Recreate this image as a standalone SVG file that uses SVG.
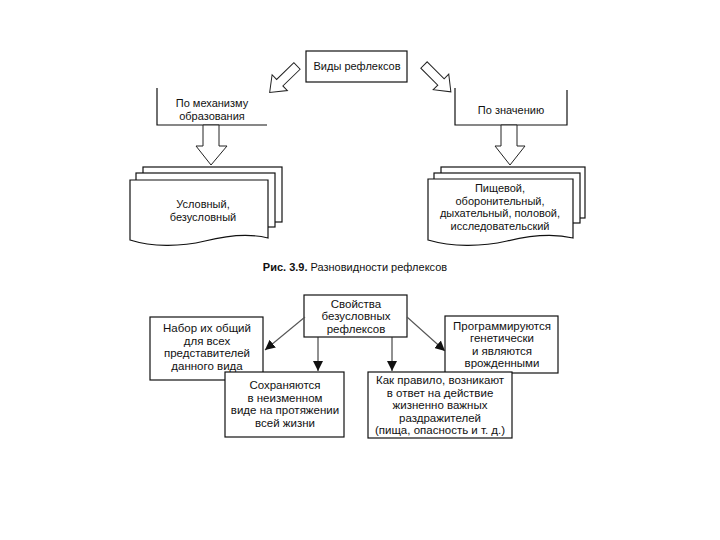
<svg xmlns="http://www.w3.org/2000/svg" width="720" height="540" viewBox="0 0 720 540">
<defs>
<style>
.t{font-family:"Liberation Sans",Arial,sans-serif;font-size:11px;fill:#111;text-anchor:middle}
.b{font-family:"Liberation Sans",Arial,sans-serif;font-size:11.5px;fill:#111;text-anchor:middle}
.box{fill:#fff;stroke:#111;stroke-width:1.2}
.ln{fill:none;stroke:#111;stroke-width:1.2}
.ha{fill:#fff;stroke:#222;stroke-width:1}
.con{fill:none;stroke:#222;stroke-width:1}
.dg{fill:none;stroke:#555;stroke-width:1.1}
</style>
<marker id="ah" viewBox="0 0 10 10" refX="10" refY="5" markerWidth="10" markerHeight="10" markerUnits="userSpaceOnUse" orient="auto">
<path d="M0,0 L10,5 L0,10 Z" fill="#111"/>
</marker>
<polygon id="hollow" points="0,-4.5 24,-4.5 24,-11 38,0 24,11 24,4.5 0,4.5"/>
</defs>
<rect width="720" height="540" fill="#fff"/>

<g id="vidy">
<rect class="box" x="306" y="51" width="101" height="31"/>
<text class="t" x="357" y="70">Виды рефлексов</text>
</g>

<g id="po-mehanizmu">
<path class="ln" d="M157,88 V125 H267"/>
<text class="t" x="212" y="107">По механизму</text>
<text class="t" x="212" y="119.5">образования</text>
</g>

<g id="po-znacheniyu">
<path class="ln" d="M455,88 V125 H567 V90"/>
<text class="t" x="511" y="114">По значению</text>
</g>

<g id="doc-left">
<rect class="box" x="143" y="167" width="139" height="55"/>
<rect class="box" x="136" y="173" width="139" height="54"/>
<path class="box" d="M130,180 H268 V238 C248,233 225,236 205,241 C180,247 152,247 130,240 Z"/>
<text class="t" x="203" y="208">Условный,</text>
<text class="t" x="203" y="220.5">безусловный</text>
</g>

<g id="doc-right">
<rect class="box" x="441" y="167" width="144" height="51"/>
<rect class="box" x="434" y="173" width="146" height="50"/>
<path class="box" d="M428,179 H573 V238 C552,233 528,236 507,241 C481,247 452,247 428,240 Z"/>
<text class="t" x="500" y="192">Пищевой,</text>
<text class="t" x="500" y="204.5">оборонительный,</text>
<text class="t" x="500" y="217">дыхательный, половой,</text>
<text class="t" x="500" y="229.5">исследовательский</text>
</g>

<text x="355" y="271" style="font-family:'Liberation Sans',Arial,sans-serif;font-size:11px;fill:#111;text-anchor:middle"><tspan font-weight="bold">Рис. 3.9.</tspan> Разновидности рефлексов</text>

<g id="svoistva">
<rect class="box" x="304" y="295" width="103" height="42"/>
<text class="b" x="356" y="307.5">Свойства</text>
<text class="b" x="356" y="320">безусловных</text>
<text class="b" x="356" y="332.5">рефлексов</text>
</g>

<g id="nabor">
<rect class="box" x="150" y="317" width="113" height="63"/>
<text class="b" x="207" y="332">Набор их общий</text>
<text class="b" x="207" y="344.5">для всех</text>
<text class="b" x="207" y="357">представителей</text>
<text class="b" x="207" y="369.5">данного вида</text>
</g>

<g id="programmiruyutsya">
<rect class="box" x="445" y="316" width="113" height="57"/>
<text class="b" x="502" y="329.5">Программируются</text>
<text class="b" x="502" y="342">генетически</text>
<text class="b" x="502" y="354.5">и являются</text>
<text class="b" x="502" y="367">врожденными</text>
</g>

<g id="sohranyayutsya">
<rect class="box" x="225" y="372" width="119" height="65"/>
<text class="b" x="285" y="389">Сохраняются</text>
<text class="b" x="285" y="401.5">в неизменном</text>
<text class="b" x="285" y="414">виде на протяжении</text>
<text class="b" x="285" y="426.5">всей жизни</text>
</g>

<g id="kak-pravilo">
<rect class="box" x="368" y="372" width="144" height="66"/>
<text class="b" x="440" y="384">Как правило, возникают</text>
<text class="b" x="440" y="396.5">в ответ на действие</text>
<text class="b" x="440" y="409">жизненно важных</text>
<text class="b" x="440" y="421.5">раздражителей</text>
<text class="b" x="440" y="434">(пища, опасность и т. д.)</text>
</g>

<g id="connectors">
<use href="#hollow" class="ha" transform="translate(297,66) rotate(136)"/>
<use href="#hollow" class="ha" transform="translate(424,65) rotate(45)"/>
<polygon class="ha" points="203,125 219,125 219,146 227,146 211,165 196,146 203,146"/>
<polygon class="ha" points="501,125 517,125 517,146 525,146 510,165 495,146 501,146"/>
<line class="dg" x1="305" y1="317" x2="265" y2="350" marker-end="url(#ah)"/>
<line class="dg" x1="407" y1="317" x2="445" y2="351" marker-end="url(#ah)"/>
<line class="con" x1="318" y1="337" x2="318" y2="371" marker-end="url(#ah)"/>
<line class="con" x1="392" y1="337" x2="392" y2="371" marker-end="url(#ah)"/>
</g>
</svg>
